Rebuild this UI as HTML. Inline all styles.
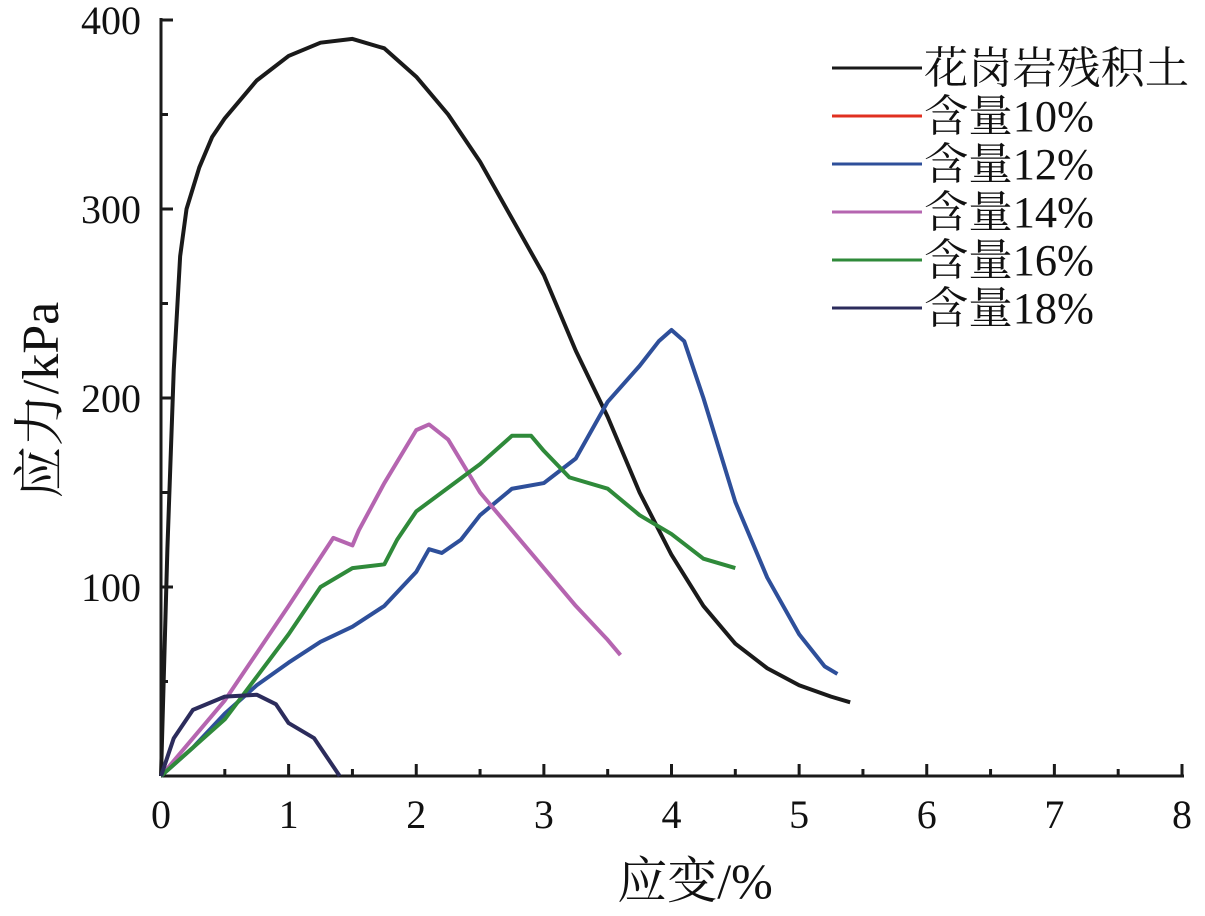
<!DOCTYPE html>
<html><head><meta charset="utf-8"><style>
body{margin:0;background:#fff}
svg text{font-family:"Liberation Serif","Noto Serif CJK SC",serif;fill:#111}
</style></head><body>
<svg id="chart" width="1205" height="911" viewBox="0 0 1205 911" xmlns="http://www.w3.org/2000/svg">
<g id="axes"></g>
<g id="series"></g>
<g id="legend"></g>
<text transform="translate(58,400) rotate(-90)" text-anchor="middle" font-size="52">应力/kPa</text>
<text x="695" y="898" text-anchor="middle" font-size="50">应变/%</text>
</svg>
<script>
const xTicks=[0,1,2,3,4,5,6,7,8];
const yTicks=[100,200,300,400];
const seriesNames=["花岗岩残积土","含量10%","含量12%","含量14%","含量16%","含量18%"];
const seriesColors=["#1a1a1a","#e03020","#2e4f9a","#b565b0","#2f8a3a","#2c2c5c"];
const granite=[[0,0],[0.05,120],[0.1,215],[0.15,275],[0.2,300],[0.3,322],[0.4,338],[0.5,348],[0.75,368],[1,381],[1.25,388],[1.5,390],[1.75,385],[2,370],[2.25,350],[2.5,325],[2.75,295],[3,265],[3.25,225],[3.5,190],[3.75,150],[4,117],[4.25,90],[4.5,70],[4.75,57],[5,48],[5.25,42],[5.4,39]];
const c10=[];
const c12=[[0,0],[0.25,15],[0.5,33],[0.75,48],[1,60],[1.25,71],[1.5,79],[1.75,90],[2,108],[2.1,120],[2.2,118],[2.35,125],[2.5,138],[2.75,152],[3,155],[3.25,168],[3.5,198],[3.75,217],[3.9,230],[4,236],[4.1,230],[4.25,200],[4.5,145],[4.75,105],[5,75],[5.2,58],[5.3,54]];
const c14=[[0,0],[0.5,40],[1,90],[1.35,126],[1.5,122],[1.55,130],[1.75,155],[2,183],[2.1,186],[2.25,178],[2.5,150],[2.75,130],[3,110],[3.25,90],[3.5,72],[3.6,64]];
const c16=[[0,0],[0.5,30],[1,75],[1.25,100],[1.5,110],[1.75,112],[1.85,125],[2,140],[2.5,165],[2.75,180],[2.9,180],[3,172],[3.2,158],[3.5,152],[3.75,138],[4,128],[4.25,115],[4.5,110]];
const c18=[[0,0],[0.1,20],[0.25,35],[0.5,42],[0.75,43],[0.9,38],[1,28],[1.2,20],[1.3,10],[1.4,0]];
const allSeries=[granite,c10,c12,c14,c16,c18];
const X0=161,X1=1182,Y0=776,Y1=20;
const sx=v=>X0+(X1-X0)*v/8, sy=v=>Y0-(Y0-Y1)*v/400;
const NS="http://www.w3.org/2000/svg";
function mk(t,a,p){const e=document.createElementNS(NS,t);for(const k in a)e.setAttribute(k,a[k]);p.appendChild(e);return e;}
const ax=document.getElementById('axes');
let l=mk('line',{x1:X0,y1:Y0,x2:X1+2,y2:Y0,stroke:'#1a1a1a','stroke-width':3},ax);


l=mk('line',{x1:X0,y1:Y0,x2:X0,y2:Y1-2,stroke:'#1a1a1a','stroke-width':3},ax);


xTicks.forEach(v=>{
 let t=mk('line',{x1:sx(v),y1:Y0,x2:sx(v),y2:Y0-12,stroke:'#1a1a1a','stroke-width':3},ax);
 
 
 if(v<8){let m=mk('line',{x1:sx(v+0.5),y1:Y0,x2:sx(v+0.5),y2:Y0-7,stroke:'#1a1a1a','stroke-width':3},ax);
 
 }
 let tx=mk('text',{x:sx(v),y:Y0+52,'text-anchor':'middle','font-size':40},ax);tx.textContent=v;
 
 
});
yTicks.forEach(v=>{
 let t=mk('line',{x1:X0,y1:sy(v),x2:X0+12,y2:sy(v),stroke:'#1a1a1a','stroke-width':3},ax);
 
 
 let m=mk('line',{x1:X0,y1:sy(v-50),x2:X0+7,y2:sy(v-50),stroke:'#1a1a1a','stroke-width':3},ax);
 
 
 let tx=mk('text',{x:X0-20,y:sy(v)+14,'text-anchor':'end','font-size':40},ax);tx.textContent=v;
 
 
});
const sg=document.getElementById('series');
allSeries.forEach((d,i)=>{
 if(!d.length)return;
 let p=mk('polyline',{points:d.map(q=>sx(q[0])+','+sy(q[1])).join(' '),fill:'none',stroke:seriesColors[i],'stroke-width':4,'stroke-linejoin':'round'},sg);
 
 
});
const lg=document.getElementById('legend');
seriesNames.forEach((n,i)=>{
 const y=68+i*48;
 let ln=mk('line',{x1:832,y1:y,x2:922,y2:y,stroke:seriesColors[i],'stroke-width':3},lg);
 
 
 let tx=mk('text',{x:924,y:y+15,'font-size':44,textLength:i==0?265:170,lengthAdjust:'spacingAndGlyphs'},lg);tx.textContent=n;
 
 
});
</script>
</body></html>
